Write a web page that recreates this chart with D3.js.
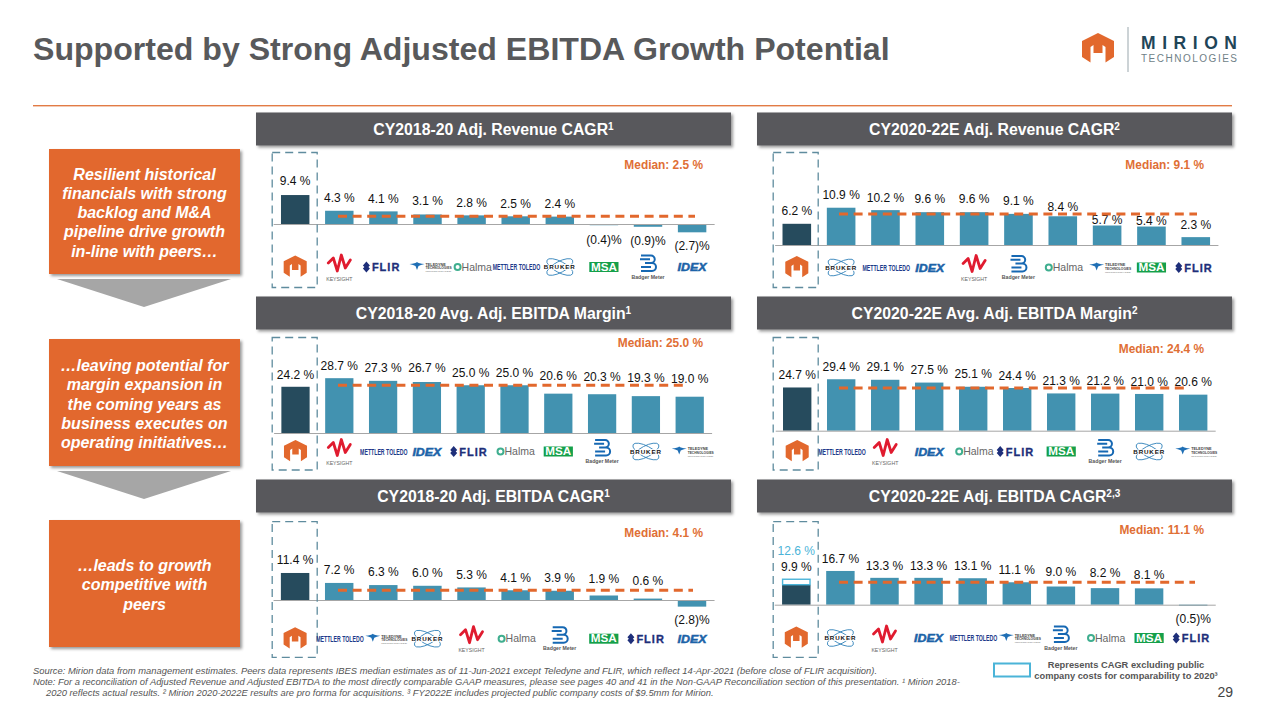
<!DOCTYPE html>
<html>
<head>
<meta charset="utf-8">
<script src="https://cdn.jsdelivr.net/npm/d3@7"></script>
<style>
  html, body { margin: 0; padding: 0; background: #fff; }
  svg { display: block; }
  text { font-family: "Liberation Sans", Arial, sans-serif; }
</style>
</head>
<body>
<svg id="chart" width="1280" height="720"></svg>
<script>
// Chart values
const titles = [
  "CY2018-20 Adj. Revenue CAGR",
  "CY2020-22E Adj. Revenue CAGR",
  "CY2018-20 Avg. Adj. EBITDA Margin",
  "CY2020-22E Avg. Adj. EBITDA Margin",
  "CY2018-20 Adj. EBITDA CAGR",
  "CY2020-22E Adj. EBITDA CAGR",
];
const titleNotes = ["1", "2", "1", "2", "1", "2,3"];

const revenueHistCompanies = ["Mirion", "Keysight", "FLIR", "Teledyne", "Halma", "Mettler", "Bruker", "MSA", "Badger", "IDEX"];
const revenueHistValues = [9.4, 4.3, 4.1, 3.1, 2.8, 2.5, 2.4, -0.4, -0.9, -2.7];

const revenueFwdCompanies = ["Mirion", "Bruker", "Mettler", "IDEX", "Keysight", "Badger", "Halma", "Teledyne", "MSA", "FLIR"];
const revenueFwdValues = [6.2, 10.9, 10.2, 9.6, 9.6, 9.1, 8.4, 5.7, 5.4, 2.3];

const marginHistCompanies = ["Mirion", "Keysight", "Mettler", "IDEX", "FLIR", "Halma", "MSA", "Badger", "Bruker", "Teledyne"];
const marginHistValues = [24.2, 28.7, 27.3, 26.7, 25.0, 25.0, 20.6, 20.3, 19.3, 19.0];

const marginFwdCompanies = ["Mirion", "Mettler", "Keysight", "IDEX", "Halma", "FLIR", "MSA", "Badger", "Bruker", "Teledyne"];
const marginFwdValues = [24.7, 29.4, 29.1, 27.5, 25.1, 24.4, 21.3, 21.2, 21.0, 20.6];

const ebitdaHistCompanies = ["Mirion", "Mettler", "Teledyne", "Bruker", "Keysight", "Halma", "Badger", "MSA", "FLIR", "IDEX"];
const ebitdaHistValues = [11.4, 7.2, 6.3, 6.0, 5.3, 4.1, 3.9, 1.9, 0.6, -2.8];

const ebitdaFwdCompanies = ["Mirion", "Bruker", "Keysight", "IDEX", "Mettler", "Teledyne", "Badger", "Halma", "MSA", "FLIR"];
const ebitdaFwdValues = [9.9, 16.7, 13.3, 13.3, 13.1, 11.1, 9.0, 8.2, 8.1, -0.5];
const ebitdaFwdExCosts = 12.6;

const medians = [2.5, 9.1, 25.0, 24.4, 4.1, 11.1];

const calloutLines = [
  ["Resilient historical", "financials with strong", "backlog and M&A", "pipeline drive growth", "in-line with peers…"],
  ["…leaving potential for", "margin expansion in", "the coming years as", "business executes on", "operating initiatives…"],
  ["…leads to growth", "competitive with", "peers"],
];
const footnotes = [
  "Source: Mirion data from management estimates. Peers data represents IBES median estimates as of 11-Jun-2021 except Teledyne and FLIR, which reflect 14-Apr-2021 (before close of FLIR acquisition).",
  "Note: For a reconciliation of Adjusted Revenue and Adjusted EBITDA to the most directly comparable GAAP measures, please see pages 40 and 41 in the Non-GAAP Reconciliation section of this presentation. ¹ Mirion 2018-",
  "2020 reflects actual results. ² Mirion 2020-2022E results are pro forma for acquisitions. ³ FY2022E includes projected public company costs of $9.5mm for Mirion.",
];

const GREY = "#58595b";
const ORANGE = "#e2682d";
const TEAL = "#4292b0";
const DARK_TEAL = "#264b5d";
const NAVY = "#1e2f7a";
const LIGHT_BLUE = "#4bb4d8";

const series = [
  { companies: revenueHistCompanies, values: revenueHistValues },
  { companies: revenueFwdCompanies, values: revenueFwdValues },
  { companies: marginHistCompanies, values: marginHistValues },
  { companies: marginFwdCompanies, values: marginFwdValues },
  { companies: ebitdaHistCompanies, values: ebitdaHistValues },
  { companies: ebitdaFwdCompanies, values: ebitdaFwdValues, extra: ebitdaFwdExCosts },
];

// Slide layout of each panel. gaps = distance from bar end to label centre,
// the slide places some labels by hand.
const layouts = [
  { left: 256, band: 112.5, box: [152.5, 287.5], first: 295.2, step: 44.1, base: 224, unit: 3.08, logo: 267, medY: 165, medEnd: 695,
    gaps: [14, 13.5, 13, 13.5, 12.7, 12.6, 12.6, 14, 14, 13.7] },
  { left: 757, band: 112.5, box: [152.5, 287.5], first: 796.8, step: 44.33, base: 245, unit: 3.42, logo: 267.5, medY: 164.7, medEnd: 1197,
    gaps: [12.8, 13, 12.6, 13.2, 13.2, 12.9, 9.3, 5.5, 6, 12.6] },
  { left: 256, band: 296.5, box: [337.5, 470], first: 295.5, step: 43.8, base: 433, unit: 1.91, logo: 451.5, medY: 342.3, medEnd: 687,
    gaps: [12.5, 12.5, 13.2, 14.3, 12.5, 12.5, 18, 17.5, 18, 18] },
  { left: 757, band: 296.5, box: [337.5, 470], first: 797.2, step: 44, base: 430.7, unit: 1.75, logo: 451.5, medY: 349, medEnd: 1189,
    gaps: [12.5, 13, 12.8, 13.3, 13, 12.7, 12.4, 12.6, 12, 12.6] },
  { left: 256, band: 479.5, box: [521.7, 657.3], first: 295.1, step: 44.1, base: 600, unit: 2.37, logo: 638.7, medY: 533, medEnd: 693,
    gaps: [13.7, 12.9, 13, 13.1, 12.4, 12.3, 12.8, 16.5, 17.9, 13.4] },
  { left: 757, band: 479.5, box: [521.7, 657.3], first: 796.3, step: 44.1, base: 604.7, unit: 2.02, logo: 638, medY: 530, medEnd: 1195,
    gaps: [18, 12.3, 12.1, 12.1, 12.2, 12.3, 14.5, 15.4, 14, 13.3] },
];

const svg = d3.select("#chart");

const defs = svg.append("defs");
const shadow = defs.append("filter").attr("id", "shadow")
  .attr("x", "-5%").attr("y", "-10%").attr("width", "110%").attr("height", "125%");
shadow.append("feDropShadow")
  .attr("dx", 2).attr("dy", 2).attr("stdDeviation", 1.6)
  .attr("flood-color", "#000").attr("flood-opacity", 0.4);

// Company marks are rebuilt by hand, centred on 0,0
const drawMirionMark = (g, s) => {
  g.append("path").attr("fill", ORANGE).attr("transform", `scale(${s})`)
    .attr("d", "M0,-16 L16,-8 L16,8 L7.5,13.5 L7.5,-2 L4.5,-4 L4.5,4 L-4.5,4 L-4.5,-4 L-7.5,-2 L-7.5,13.5 L-16,8 L-16,-8 Z");
};

// Squeezes a word sideways so its real box stays as narrow as it looks
const squeezed = (g, word, size, sx, x, y) =>
  g.append("text").attr("transform", `translate(${x},${y}) scale(${sx},1)`)
    .attr("font-size", size).attr("font-weight", 700).text(word);

const logoDrawers = {
  Mirion: (g) => drawMirionMark(g, 0.72),
  Keysight: (g) => {
    g.append("path").attr("fill", "none").attr("stroke", "#e01b2f").attr("stroke-width", 2.8)
      .attr("stroke-linejoin", "round").attr("stroke-linecap", "round")
      .attr("d", "M-11,-4 L-6,-9 L-2,4 L2,-12 L6,1 L11,-7");
    g.append("text").attr("y", 13.5).attr("text-anchor", "middle")
      .attr("font-size", 5.2).attr("fill", "#666").text("KEYSIGHT");
  },
  FLIR: (g) => {
    g.append("path").attr("fill", NAVY)
      .attr("d", "M-17,-5.5 L-13.5,-1.5 L-15,0 L-13.5,1.5 L-17,5.5 L-20.5,1.5 L-19,0 L-20.5,-1.5 Z");
    g.append("text").attr("x", -11.5).attr("y", 4).attr("font-size", 11).attr("font-weight", 700)
      .attr("letter-spacing", 1).attr("stroke", NAVY).attr("stroke-width", 0.3)
      .attr("fill", NAVY).text("FLIR");
  },
  Teledyne: (g) => {
    g.append("path").attr("fill", "#1f6fb5")
      .attr("d", "M-18,-3 Q-12,-3.5 -10.5,-5 Q-9,-3.5 -3,-3 Q-7,-2 -9,-1 L-10.5,3 L-12,-1 Q-14,-2 -18,-3 Z");
    const small = [["TELEDYNE", -1.2, 3.8, 1], ["TECHNOLOGIES", 2.4, 3.8, 0.86], ["INCORPORATED", 5, 2.3, 1.4]];
    small.forEach(([word, y, size, sx]) => {
      squeezed(g, word, size, sx, -2, y).attr("fill", size < 3 ? "#999" : "#444");
    });
  },
  Halma: (g) => {
    g.append("circle").attr("cx", -14).attr("r", 3).attr("fill", "none")
      .attr("stroke", "#3fae8f").attr("stroke-width", 2);
    g.append("text").attr("x", -10).attr("y", 3.6).attr("font-size", 10.5)
      .attr("fill", "#666").text("Halma");
  },
  Mettler: (g) => {
    squeezed(g, "METTLER TOLEDO", 9.3, 0.56, -23, 3.2).attr("fill", "#1d3a8a");
  },
  Bruker: (g) => {
    [-28, 28].forEach((a) => {
      g.append("ellipse").attr("rx", 14.5).attr("ry", 5.5).attr("fill", "none")
        .attr("stroke", "#2c7fb8").attr("stroke-width", 0.8)
        .attr("transform", `rotate(${a})`);
    });
    g.append("text").attr("text-anchor", "middle").attr("y", 2.3).attr("font-size", 6.2)
      .attr("font-weight", 700).attr("letter-spacing", 0.9).attr("fill", "#111")
      .attr("stroke", "#fff").attr("stroke-width", 1.4).attr("paint-order", "stroke").text("BRUKER");
  },
  MSA: (g) => {
    g.append("rect").attr("x", -14.6).attr("y", -5).attr("width", 29.2).attr("height", 10).attr("fill", "#15a04a");
    g.append("text").attr("text-anchor", "middle").attr("y", 3.6).attr("font-size", 10)
      .attr("font-weight", 700).attr("textLength", 26).attr("lengthAdjust", "spacingAndGlyphs")
      .attr("fill", "#fff").text("MSA");
  },
  Badger: (g) => {
    g.append("path").attr("fill", "none").attr("stroke", "#1668b3").attr("stroke-width", 2)
      .attr("d", "M-7,-11.5 H3 A3.7,3.7 0 0 1 3,-4 H-3 M-8,-7.7 H2 M-3,-4 H4 A4,4 0 0 1 4,4 H-7 M-7,0 H3");
    g.append("text").attr("text-anchor", "middle").attr("y", 11.5).attr("font-size", 5.2)
      .attr("font-weight", 700).attr("fill", "#555").text("Badger Meter");
  },
  IDEX: (g) => {
    g.append("text").attr("text-anchor", "middle").attr("y", 4.2).attr("font-size", 11.5)
      .attr("font-weight", 700).attr("font-style", "italic")
      .attr("textLength", 29).attr("lengthAdjust", "spacingAndGlyphs")
      .attr("stroke", "#1c63a8").attr("stroke-width", 0.5).attr("fill", "#1c63a8").text("IDEX");
  },
};

const formatValue = (v) => {
  const txt = d3.format(".1f")(Math.abs(v));
  return v < 0 ? `(${txt})%` : `${txt} %`;
};

// ---- Header ----
svg.append("text").attr("x", 33).attr("y", 60)
  .attr("font-size", 32.1).attr("font-weight", 700).attr("fill", GREY)
  .text("Supported by Strong Adjusted EBITDA Growth Potential");

svg.append("rect").attr("x", 33).attr("width", 1199).attr("y", 105).attr("height", 1.4)
  .attr("fill", "#e27b45");

const brand = svg.append("g").attr("transform", "translate(1098,49)");
drawMirionMark(brand, 1);
svg.append("line").attr("x1", 1128).attr("x2", 1128).attr("y1", 27).attr("y2", 72)
  .attr("stroke", "#9aa7ad").attr("stroke-width", 1);
svg.append("text").attr("x", 1141).attr("y", 49).attr("font-size", 17.5).attr("font-weight", 700)
  .attr("textLength", 96).attr("fill", "#1f4558").text("MIRION");
svg.append("text").attr("x", 1141).attr("y", 62).attr("font-size", 10)
  .attr("textLength", 96).attr("fill", "#6f7f87").text("TECHNOLOGIES");

// ---- Left hand callouts ----
const calloutBoxes = [[149, 125, 179.5], [339, 127, 371], [520, 127, 571]];

svg.selectAll("path.arrow").data([279, 471]).join("path")
  .attr("class", "arrow")
  .attr("fill", "#a6a6a6")
  .attr("d", (y) => `M57,${y} L231,${y} L144,${y + 28} Z`);

calloutBoxes.forEach(([top, h, firstLine], i) => {
  svg.append("rect").attr("x", 49).attr("y", top).attr("width", 191).attr("height", h)
    .attr("fill", ORANGE).attr("filter", "url(#shadow)");
  const txt = svg.append("text").attr("text-anchor", "middle").attr("font-size", 16)
    .attr("font-weight", 700).attr("font-style", "italic").attr("fill", "#fff");
  calloutLines[i].forEach((line, k) => {
    txt.append("tspan").attr("x", 144.5).attr("y", firstLine + k * 19.3).text(line);
  });
});

// ---- Panels ----
series.forEach((s, i) => {
  const lay = layouts[i];
  const g = svg.append("g").attr("class", "panel");

  // Title band
  g.append("rect").attr("x", lay.left).attr("y", lay.band).attr("width", 475).attr("height", 33)
    .attr("fill", GREY).attr("filter", "url(#shadow)");
  const title = g.append("text").attr("x", lay.left + 237.5).attr("y", lay.band + 22)
    .attr("text-anchor", "middle").attr("font-size", 15.8).attr("font-weight", 700).attr("fill", "#fff");
  title.append("tspan").text(titles[i]);
  title.append("tspan").attr("font-size", 10).attr("dy", -5).text(titleNotes[i]);

  const x0 = lay.first - lay.step / 2;
  const x = d3.scaleBand().domain(s.companies).range([x0, x0 + lay.step * s.companies.length])
    .paddingInner(0.355).paddingOuter(0.1775);
  const y = d3.scaleLinear().domain([0, 10]).range([lay.base, lay.base - lay.unit * 10]);
  const mid = (d) => x(d) + x.bandwidth() / 2;

  // Bars
  g.selectAll("rect.bar").data(s.companies).join("rect")
    .attr("class", "bar")
    .attr("x", (d) => x(d))
    .attr("width", x.bandwidth())
    .attr("y", (d, k) => Math.min(y(s.values[k]), y(0)))
    .attr("height", (d, k) => Math.abs(y(s.values[k]) - y(0)))
    .attr("fill", (d, k) => (k === 0 ? DARK_TEAL : TEAL));

  // Hollow bar on top of Mirion for the value without public company costs
  if (s.extra != null) {
    g.append("rect")
      .attr("x", x(s.companies[0]) + 0.5)
      .attr("width", x.bandwidth() - 1)
      .attr("y", y(s.extra))
      .attr("height", y(s.values[0]) - y(s.extra))
      .attr("fill", "#fff").attr("stroke", LIGHT_BLUE).attr("stroke-width", 1.4);
    g.append("text")
      .attr("x", mid(s.companies[0]))
      .attr("y", y(s.extra) - 29 + 4.3)
      .attr("text-anchor", "middle").attr("font-size", 12).attr("fill", LIGHT_BLUE)
      .text(formatValue(s.extra));
  }

  // Zero line
  g.append("g").attr("transform", `translate(0,${lay.base})`)
    .call(d3.axisBottom(x).tickSize(0).tickFormat(""))
    .call((a) => a.select(".domain").attr("stroke", "#a6a6a6").attr("stroke-width", 1));

  // Value labels
  g.selectAll("text.value").data(s.companies).join("text")
    .attr("class", "value")
    .attr("x", mid)
    .attr("y", (d, k) => y(s.values[k]) + (s.values[k] < 0 ? lay.gaps[k] : -lay.gaps[k]) + 4.3)
    .attr("text-anchor", "middle").attr("font-size", 12).attr("fill", "#111")
    .text((d, k) => formatValue(s.values[k]));

  // Median line
  g.append("line")
    .attr("x1", lay.left + 82).attr("x2", lay.medEnd)
    .attr("y1", y(medians[i])).attr("y2", y(medians[i]))
    .attr("stroke", ORANGE).attr("stroke-width", 3).attr("stroke-dasharray", "9 5.6");
  g.append("text").attr("x", lay.left + 447).attr("y", lay.medY + 4.3)
    .attr("text-anchor", "end").attr("font-size", 11.9).attr("font-weight", 700).attr("fill", "#df6f35")
    .text(`Median: ${d3.format(".1f")(medians[i])} %`);

  // Dashed box round Mirion
  g.append("rect").attr("x", lay.left + 16.2).attr("y", lay.box[0])
    .attr("width", 45).attr("height", lay.box[1] - lay.box[0])
    .attr("fill", "none").attr("stroke", "#5f8c9e").attr("stroke-width", 1.3)
    .attr("stroke-dasharray", "8 5");

  // Logos
  g.selectAll("g.logo").data(s.companies).join("g")
    .attr("class", "logo")
    .attr("transform", (d) => `translate(${mid(d)},${lay.logo})`)
    .each(function (d) { logoDrawers[d](d3.select(this)); });
});

// ---- Footer ----
const foot = svg.append("g").attr("font-style", "italic");
footnotes.forEach((line, i) => {
  foot.append("text").attr("x", i === 2 ? 46 : 33).attr("y", 674 + i * 11)
    .attr("font-size", 9.4).attr("fill", "#555").text(line);
});

svg.append("rect").attr("x", 994).attr("y", 663.5).attr("width", 36).attr("height", 13)
  .attr("fill", "#fff").attr("stroke", LIGHT_BLUE).attr("stroke-width", 2);
const legend = svg.append("text").attr("text-anchor", "middle").attr("font-size", 9.3)
  .attr("font-weight", 700).attr("fill", "#555");
legend.append("tspan").attr("x", 1126).attr("y", 668).text("Represents CAGR excluding public");
legend.append("tspan").attr("x", 1126).attr("y", 679).text("company costs for comparability to 2020³");

svg.append("text").attr("x", 1233).attr("y", 697).attr("text-anchor", "end")
  .attr("font-size", 14).attr("fill", "#444").text("29");
</script>
</body>
</html>
